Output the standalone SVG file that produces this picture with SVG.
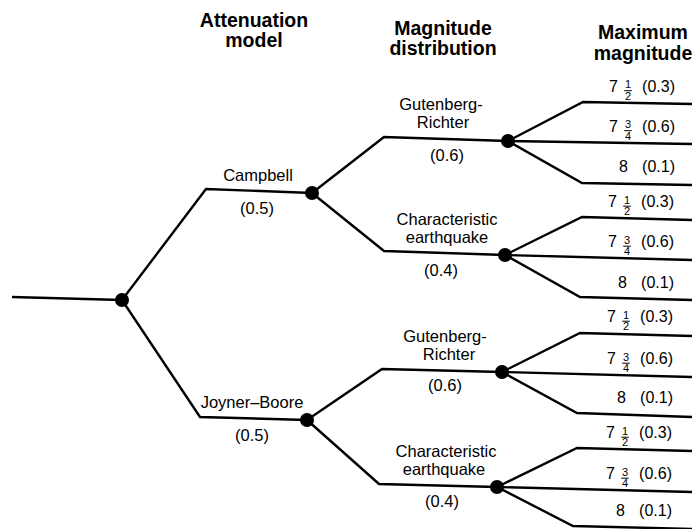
<svg xmlns="http://www.w3.org/2000/svg" width="692" height="529" viewBox="0 0 692 529">
<style>
  .hdr{font-family:"Liberation Sans",Arial,sans-serif;font-weight:bold;font-size:19.5px;fill:#000;text-anchor:middle}
  .lbl{font-family:"Liberation Sans",Arial,sans-serif;font-size:16.5px;fill:#000;text-anchor:middle}
  .leaf{font-family:"Liberation Sans",Arial,sans-serif;font-size:16px;fill:#000}
  .fr{font-family:"Liberation Sans",Arial,sans-serif;font-size:11px;fill:#000;text-anchor:middle}
  .end{text-anchor:end}
  .edge{fill:none;stroke:#000;stroke-width:2.4;stroke-linejoin:miter}
  .bar{stroke:#000;stroke-width:1}
  .dot{fill:#000}
</style>
<defs>
  <g id="half"><text class="fr" x="0" y="-3.5">1</text><line class="bar" x1="-3.8" y1="-0.8" x2="3.8" y2="-0.8"/><text class="fr" x="0" y="8">2</text></g>
  <g id="threeq"><text class="fr" x="0" y="-3.5">3</text><line class="bar" x1="-3.8" y1="-0.8" x2="3.8" y2="-0.8"/><text class="fr" x="0" y="8">4</text></g>
</defs>

<g id="headers">
  <text class="hdr" x="254" y="27">Attenuation</text>
  <text class="hdr" x="254" y="47">model</text>
  <text class="hdr" x="443" y="35">Magnitude</text>
  <text class="hdr" x="443" y="55">distribution</text>
  <text class="hdr" x="643" y="39">Maximum</text>
  <text class="hdr" x="643" y="59.5">magnitude</text>
</g>

<g id="connectors">
  <path class="edge" d="M12,297 L122,300"/>
  <path class="edge" d="M122,300 L206,189 L312,193"/>
  <path class="edge" d="M122,300 L200,417 L307,420"/>
  <path class="edge" d="M312,193 L384,137 L508,141"/>
  <path class="edge" d="M312,193 L384,251 L505,255"/>
  <path class="edge" d="M307,420 L382,369 L502,372"/>
  <path class="edge" d="M307,420 L379,484 L497,487"/>
  <path class="edge" d="M508,141 L583,102 L692,104"/>
  <path class="edge" d="M508,141 L692,144"/>
  <path class="edge" d="M508,141 L582,183 L692,185"/>
  <path class="edge" d="M505,255 L582,217 L692,220"/>
  <path class="edge" d="M505,255 L692,260"/>
  <path class="edge" d="M505,255 L580,297 L692,300"/>
  <path class="edge" d="M502,372 L580,333 L692,336"/>
  <path class="edge" d="M502,372 L692,377"/>
  <path class="edge" d="M502,372 L577,413 L692,417"/>
  <path class="edge" d="M497,487 L577,448 L692,451"/>
  <path class="edge" d="M497,487 L692,492"/>
  <path class="edge" d="M497,487 L573,526 L692,529"/>
</g>

<g id="root"><circle class="dot" cx="122" cy="300" r="7"/></g>

<g id="campbell">
  <circle class="dot" cx="312" cy="193" r="7"/>
  <text class="lbl" x="258" y="181">Campbell</text>
  <text class="lbl" x="257" y="214">(0.5)</text>
</g>
<g id="joyner-boore">
  <circle class="dot" cx="307" cy="420" r="7"/>
  <text class="lbl" x="252" y="408">Joyner–Boore</text>
  <text class="lbl" x="252" y="441">(0.5)</text>
</g>
<g id="gr1">
  <circle class="dot" cx="508" cy="141" r="7"/>
  <text class="lbl" x="441" y="110">Gutenberg-</text>
  <text class="lbl" x="443" y="128">Richter</text>
  <text class="lbl" x="447" y="161">(0.6)</text>
</g>
<g id="ce1">
  <circle class="dot" cx="505" cy="255" r="7"/>
  <text class="lbl" x="447" y="225">Characteristic</text>
  <text class="lbl" x="447" y="243">earthquake</text>
  <text class="lbl" x="441" y="276">(0.4)</text>
</g>
<g id="gr2">
  <circle class="dot" cx="502" cy="372" r="7"/>
  <text class="lbl" x="445" y="342">Gutenberg-</text>
  <text class="lbl" x="449" y="360">Richter</text>
  <text class="lbl" x="445" y="391">(0.6)</text>
</g>
<g id="ce2">
  <circle class="dot" cx="497" cy="487" r="7"/>
  <text class="lbl" x="446" y="457">Characteristic</text>
  <text class="lbl" x="444" y="475">earthquake</text>
  <text class="lbl" x="442" y="507">(0.4)</text>
</g>

<g id="leaf-gr1-a"><text class="leaf" x="609" y="91.5">7</text><use href="#half" x="628" y="91.5"/><text class="leaf end" x="675" y="91.5">(0.3)</text></g>
<g id="leaf-gr1-b"><text class="leaf" x="609" y="131.5">7</text><use href="#threeq" x="628" y="131.5"/><text class="leaf end" x="675" y="131.5">(0.6)</text></g>
<g id="leaf-gr1-c"><text class="leaf" x="619" y="172">8</text><text class="leaf end" x="675" y="172">(0.1)</text></g>

<g id="leaf-ce1-a"><text class="leaf" x="608" y="207">7</text><use href="#half" x="627" y="207"/><text class="leaf end" x="674" y="207">(0.3)</text></g>
<g id="leaf-ce1-b"><text class="leaf" x="608" y="247">7</text><use href="#threeq" x="627" y="247"/><text class="leaf end" x="674" y="247">(0.6)</text></g>
<g id="leaf-ce1-c"><text class="leaf" x="618" y="288">8</text><text class="leaf end" x="674" y="288">(0.1)</text></g>

<g id="leaf-gr2-a"><text class="leaf" x="607" y="322">7</text><use href="#half" x="626" y="322"/><text class="leaf end" x="673" y="322">(0.3)</text></g>
<g id="leaf-gr2-b"><text class="leaf" x="607" y="364">7</text><use href="#threeq" x="626" y="364"/><text class="leaf end" x="673" y="364">(0.6)</text></g>
<g id="leaf-gr2-c"><text class="leaf" x="617" y="403">8</text><text class="leaf end" x="673" y="403">(0.1)</text></g>

<g id="leaf-ce2-a"><text class="leaf" x="606" y="438">7</text><use href="#half" x="625" y="438"/><text class="leaf end" x="672" y="438">(0.3)</text></g>
<g id="leaf-ce2-b"><text class="leaf" x="606" y="479">7</text><use href="#threeq" x="625" y="479"/><text class="leaf end" x="672" y="479">(0.6)</text></g>
<g id="leaf-ce2-c"><text class="leaf" x="616" y="516">8</text><text class="leaf end" x="672" y="516">(0.1)</text></g>
</svg>
